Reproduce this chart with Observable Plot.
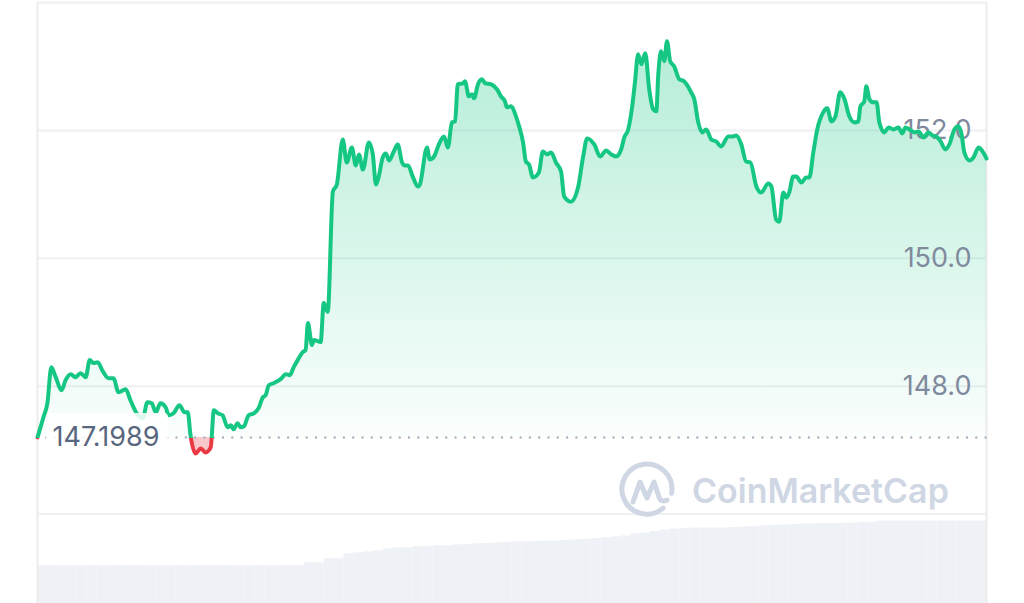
<!DOCTYPE html>
<html>
<head>
<meta charset="utf-8">
<script src="https://cdn.jsdelivr.net/npm/d3@7"></script>
<script src="https://cdn.jsdelivr.net/npm/@observablehq/plot@0.6"></script>
<style>
  html, body { margin: 0; padding: 0; background: #fff; }
  #chart { position: relative; width: 1024px; height: 603px; overflow: hidden; font-family: Inter, "Noto Sans", sans-serif; }
  #chart > svg { position: absolute; left: 0; top: 0; }
  #watermark { position: absolute; left: 617px; top: 460px; display: flex; align-items: center; pointer-events: none; }
  #watermark span { font-family: Inter, sans-serif; font-weight: 600; font-size: 34px; color: #cfd6e4; margin-left: 15px; }
</style>
</head>
<body>
<div id="chart"></div>
<script>
// 24h price history (hours since open, USD)
const hours = [0,0.15,0.25,0.35,0.46,0.61,0.71,0.84,0.96,1.09,
  1.22,1.32,1.42,1.52,1.65,1.80,1.92,2.05,2.23,2.35,
  2.51,2.66,2.78,2.89,2.99,3.11,3.24,3.32,3.44,3.59,
  3.72,3.80,3.87,4.00,4.13,4.25,4.38,4.46,4.56,4.68,
  4.81,4.89,4.96,5.06,5.14,5.22,5.34,5.47,5.59,5.70,
  5.77,5.85,5.97,6.15,6.28,6.38,6.48,6.58,6.71,6.78,
  6.84,6.94,6.99,7.16,7.24,7.34,7.47,7.57,7.72,7.82,
  7.95,8.05,8.13,8.23,8.38,8.48,8.56,8.63,8.73,8.81,
  8.89,9.01,9.11,9.22,9.29,9.37,9.49,9.62,9.67,9.85,
  9.92,10.03,10.15,10.28,10.38,10.48,10.56,10.63,10.76,10.81,
  10.91,10.99,11.04,11.14,11.24,11.32,11.47,11.62,11.72,11.82,
  11.87,11.97,12.10,12.18,12.28,12.35,12.43,12.53,12.68,12.78,
  12.89,12.99,13.11,13.24,13.32,13.49,13.67,13.80,13.90,14.08,
  14.23,14.38,14.51,14.63,14.76,14.84,14.94,15.04,15.11,15.19,
  15.27,15.37,15.47,15.57,15.65,15.70,15.77,15.85,15.92,16.00,
  16.10,16.23,16.35,16.53,16.61,16.71,16.81,16.91,17.04,17.16,
  17.29,17.47,17.59,17.67,17.80,17.92,18.03,18.18,18.30,18.48,
  18.56,18.68,18.76,18.86,18.94,19.01,19.11,19.19,19.32,19.44,
  19.52,19.62,19.72,19.87,19.97,20.08,20.18,20.30,20.41,20.53,
  20.66,20.76,20.81,20.91,20.96,21.04,21.14,21.22,21.29,21.42,
  21.52,21.65,21.77,21.87,21.95,22.05,22.18,22.28,22.41,22.53,
  22.63,22.73,22.84,22.96,23.06,23.19,23.29,23.37,23.44,23.57,
  23.67,23.80,23.90,24.00];

const prices = [147.1989,147.514,147.733,148.298,148.141,147.937,148.094,148.188,148.141,148.204,
  148.141,148.408,148.361,148.376,148.235,148.125,148.125,147.906,147.953,147.780,
  147.576,147.498,147.749,147.733,147.592,147.733,147.671,147.545,147.576,147.702,
  147.592,147.592,147.231,146.949,147.027,146.965,147.043,147.624,147.576,147.545,
  147.357,147.388,147.325,147.420,147.357,147.373,147.545,147.576,147.655,147.827,
  147.859,148.016,148.047,148.110,148.188,148.173,148.298,148.408,148.533,148.565,
  148.988,148.643,148.722,148.690,149.302,149.161,151.043,151.153,151.859,151.498,
  151.733,151.451,151.624,151.388,151.812,151.624,151.153,151.278,151.576,151.639,
  151.529,151.671,151.780,151.498,151.451,151.451,151.278,151.122,151.153,151.733,
  151.545,151.592,151.780,151.906,151.733,152.125,152.141,152.722,152.737,152.769,
  152.533,152.565,152.502,152.722,152.800,152.737,152.722,152.643,152.533,152.455,
  152.361,152.376,152.220,152.063,151.812,151.514,151.467,151.263,151.341,151.671,
  151.624,151.655,151.498,151.357,150.965,150.886,151.106,151.592,151.875,151.780,
  151.592,151.686,151.624,151.592,151.702,151.890,152.016,152.376,152.753,153.192,
  153.035,153.208,152.643,152.329,152.298,152.878,153.239,153.082,153.396,153.082,
  153.004,152.800,152.769,152.596,152.486,152.125,151.969,152.016,151.859,151.827,
  151.749,151.906,151.906,151.922,151.780,151.514,151.498,151.122,151.027,151.169,
  151.122,150.604,150.573,151.027,150.949,151.027,151.278,151.278,151.184,151.263,
  151.263,151.655,152.016,152.282,152.345,152.141,152.220,152.596,152.486,152.220,
  152.125,152.141,152.376,152.455,152.690,152.486,152.439,152.439,152.125,151.969,
  152.047,152.016,152.047,151.953,152.047,152.016,151.969,151.984,151.890,151.969,
  151.922,151.906,151.827,151.702,151.780,152.016,152.063,151.937,151.655,151.529,
  151.576,151.733,151.671,151.561];

// Opening price: the reference line between gains (green) and losses (red)
const openPrice = 147.1989;

// Cumulative traded volume per 15-minute bucket (millions USD)
const cumulativeVolume = [380,380,380,380,380,380,380,380,380,380,
  380,380,380,380,380,380,380,380,380,380,
  380,380,380,380,380,380,380,410,410,450,
  450,500,510,520,530,550,560,560,570,575,
  580,580,590,595,600,605,610,615,620,620,
  625,630,630,635,640,645,655,660,670,680,
  700,710,725,740,750,755,760,760,760,760,
  765,770,775,780,785,790,795,800,800,805,
  805,810,810,815,820,830,830,830,830,830,
  830,830,830,830,830,830];

const gridTicks = [146, 148, 150, 152, 154];
const labelTicks = [148, 150, 152];

const green = "#16c784";
const red = "#ea3943";
const W = 1024, H = 603;
const fontFamily = "Inter, 'Noto Sans', sans-serif";

const series = hours.map((h, i) => ({hour: h, price: prices[i]}));
const bucketHours = 24 / cumulativeVolume.length;
const volumeBars = cumulativeVolume.map((v, i) => ({start: i * bucketHours, end: (i + 1) * bucketHours, volume: v}));

const container = document.getElementById("chart");

// Volume strip along the bottom
const volumeChart = Plot.plot({
  width: W, height: H,
  marginLeft: 37, marginRight: 38, marginTop: 513.6, marginBottom: 0,
  x: {domain: [0, 24], axis: null},
  y: {domain: [0, 900], axis: null},
  style: {background: "transparent", overflow: "visible"},
  marks: [
    Plot.rectY(volumeBars, {x1: "start", x2: "end", y: "volume", fill: "#eef1f5"}),
    Plot.ruleX([0, 24], {stroke: "#ececec", strokeWidth: 2})
  ]
});
container.appendChild(volumeChart);

// Price chart
const priceChart = Plot.plot({
  width: W, height: H,
  marginLeft: 37, marginRight: 38, marginTop: 2, marginBottom: 89.4,
  x: {domain: [0, 24], axis: null},
  y: {domain: [146, 154], axis: null},
  style: {background: "transparent", overflow: "visible", fontFamily},
  marks: [
    Plot.ruleY(gridTicks, {stroke: "#eef0f3", strokeWidth: 2}),
    Plot.ruleX([0, 24], {stroke: "#ececec", strokeWidth: 2}),
    Plot.area(series, {x1: "hour", y1: () => openPrice, y2: "price", fill: "url(#price-area)", curve: "monotone-x"}),
    Plot.ruleY([openPrice], {stroke: "#a9b1c0", strokeWidth: 2.4, strokeDasharray: "0 9.3", strokeLinecap: "round"}),
    Plot.text(labelTicks, {y: d => d, text: d => d.toFixed(1), frameAnchor: "right", textAnchor: "end", dx: -15, fontSize: 27, fontFamily, fill: "#808a9d"}),
    Plot.line(series, {x: "hour", y: "price", stroke: "url(#price-line)", strokeWidth: 4, strokeLinejoin: "round", strokeLinecap: "round", curve: "monotone-x"}),
    Plot.text([openPrice], {y: d => d, text: d => String(d), frameAnchor: "left", textAnchor: "start", dx: 15, fontSize: 27, fontFamily, fill: "#58667e"})
  ]
});

// Gradients split at the opening price: green above, red below
const y = priceChart.scale("y");
const yBase = y.apply(openPrice);
const yTop = y.apply(d3.max(prices));
const split = (yBase - yTop) / (H - yTop);
const NS = "http://www.w3.org/2000/svg";
const defs = document.createElementNS(NS, "defs");
defs.innerHTML = `
  <linearGradient id="price-line" gradientUnits="userSpaceOnUse" x1="0" x2="0" y1="0" y2="${H}">
    <stop offset="${(yBase + 1) / H}" stop-color="${green}"/>
    <stop offset="${(yBase + 1) / H}" stop-color="${red}"/>
  </linearGradient>
  <linearGradient id="price-area" gradientUnits="userSpaceOnUse" x1="0" x2="0" y1="${yTop}" y2="${H}">
    <stop offset="0" stop-color="${green}" stop-opacity="0.32"/>
    <stop offset="${split}" stop-color="${green}" stop-opacity="0.02"/>
    <stop offset="${split}" stop-color="${red}" stop-opacity="0.28"/>
    <stop offset="1" stop-color="${red}" stop-opacity="0.28"/>
  </linearGradient>`;
priceChart.insertBefore(defs, priceChart.firstChild);

// Translucent plate behind the opening-price label
const plate = document.createElementNS(NS, "rect");
plate.setAttribute("x", 46);
plate.setAttribute("y", yBase - 24);
plate.setAttribute("width", 122);
plate.setAttribute("height", 48);
plate.setAttribute("rx", 4);
plate.setAttribute("fill", "#ffffff");
plate.setAttribute("fill-opacity", 0.85);
priceChart.insertBefore(plate, priceChart.lastChild);

container.appendChild(priceChart);

// Watermark
const mark = document.createElement("div");
mark.id = "watermark";
mark.innerHTML = `
  <svg width="60" height="60" viewBox="0 0 60 60">
    <g fill="none" stroke="#cfd6e4" stroke-width="5" stroke-linecap="round" stroke-linejoin="round">
      <path d="M46.1 48.2 A25 25 0 1 1 54.6 33.3"/>
      <path d="M16 42 L23 22 L30 38 L37 22 L42 37 Q44 43 50 40"/>
    </g>
  </svg>
  <span>CoinMarketCap</span>`;
container.appendChild(mark);
</script>
</body>
</html>
